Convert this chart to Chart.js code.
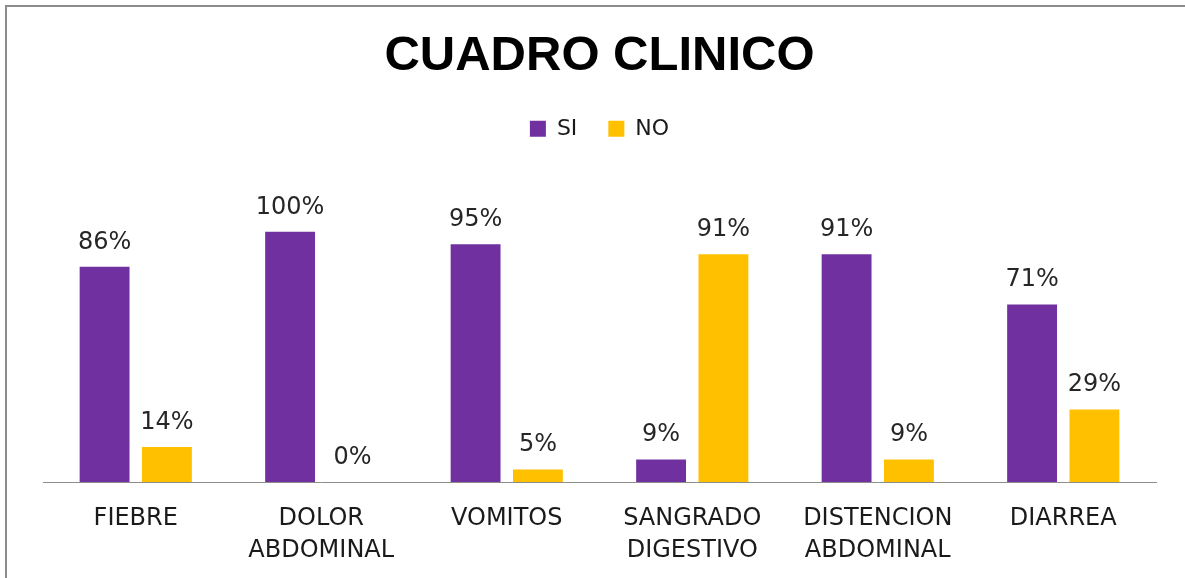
<!DOCTYPE html>
<html>
<head>
<meta charset="utf-8">
<script src="https://cdn.jsdelivr.net/npm/chart.js@4.4.1/dist/chart.umd.min.js"></script>
<style>
  html, body { margin: 0; padding: 0; background: #ffffff; }
  #wrap { position: relative; width: 1185px; height: 578px; }
</style>
</head>
<body>
<div id="wrap"><canvas id="c" width="1185" height="578"></canvas></div>
<script>
const categories = [["FIEBRE"], ["DOLOR", "ABDOMINAL"], ["VOMITOS"], ["SANGRADO", "DIGESTIVO"], ["DISTENCION", "ABDOMINAL"], ["DIARREA"]];
const siValues = [86, 100, 95, 9, 91, 71];
const noValues = [14, 0, 5, 91, 9, 29];
const seriesNames = ["SI", "NO"];
const chartTitle = "CUADRO CLINICO";

const bgAndFrame = {
  id: 'bgAndFrame',
  beforeDraw(chart) {
    const ctx = chart.ctx;
    ctx.save();
    ctx.fillStyle = '#ffffff';
    ctx.fillRect(0, 0, chart.width, chart.height);
    ctx.fillStyle = '#8c8c8c';
    ctx.fillRect(5, 5, chart.width - 5, 2);
    ctx.fillRect(5, 5, 2, chart.height - 5);
    ctx.restore();
  }
};

const valueLabels = {
  id: 'valueLabels',
  afterDatasetsDraw(chart) {
    const ctx = chart.ctx;
    ctx.save();
    ctx.font = '24px "DejaVu Sans"';
    ctx.fillStyle = '#262626';
    ctx.textAlign = 'center';
    ctx.textBaseline = 'alphabetic';
    chart.data.datasets.forEach((ds, di) => {
      const meta = chart.getDatasetMeta(di);
      meta.data.forEach((bar, i) => {
        ctx.fillText(ds.data[i] + '%', bar.x, bar.y - 18);
      });
    });
    ctx.restore();
  }
};

new Chart(document.getElementById('c'), {
  type: 'bar',
  data: {
    labels: categories,
    datasets: [
      { label: seriesNames[0], data: siValues, backgroundColor: '#7030A0', borderWidth: 0,
        categoryPercentage: 0.672, barPercentage: 0.8 },
      { label: seriesNames[1], data: noValues, backgroundColor: '#FFC000', borderWidth: 0,
        categoryPercentage: 0.672, barPercentage: 0.8 }
    ]
  },
  options: {
    responsive: false,
    animation: false,
    devicePixelRatio: 1,
    layout: { padding: { left: 43, right: 29, top: 0, bottom: 0 } },
    plugins: {
      title: {
        display: true,
        text: chartTitle,
        color: '#000000',
        font: { family: '"Liberation Sans"', size: 49, weight: 'bold', lineHeight: 1.2 },
        padding: { top: 27, bottom: 1 }
      },
      legend: {
        display: true,
        position: 'top',
        labels: {
          boxWidth: 16,
          boxHeight: 16,
          padding: 31,
          color: '#1a1a1a',
          font: { family: '"DejaVu Sans"', size: 22 }
        }
      },
      tooltip: { enabled: false }
    },
    scales: {
      x: {
        grid: { display: false, drawTicks: false },
        border: { display: true, color: '#8c8c8c', width: 1 },
        ticks: {
          color: '#1a1a1a',
          padding: 21,
          maxRotation: 0,
          autoSkip: false,
          font: { family: '"DejaVu Sans"', size: 24, lineHeight: '32px' }
        },
        afterFit(scale) { scale.height = 96; }
      },
      y: {
        display: false,
        min: 0,
        max: 132.8
      }
    }
  },
  plugins: [bgAndFrame, valueLabels]
});
</script>
</body>
</html>
